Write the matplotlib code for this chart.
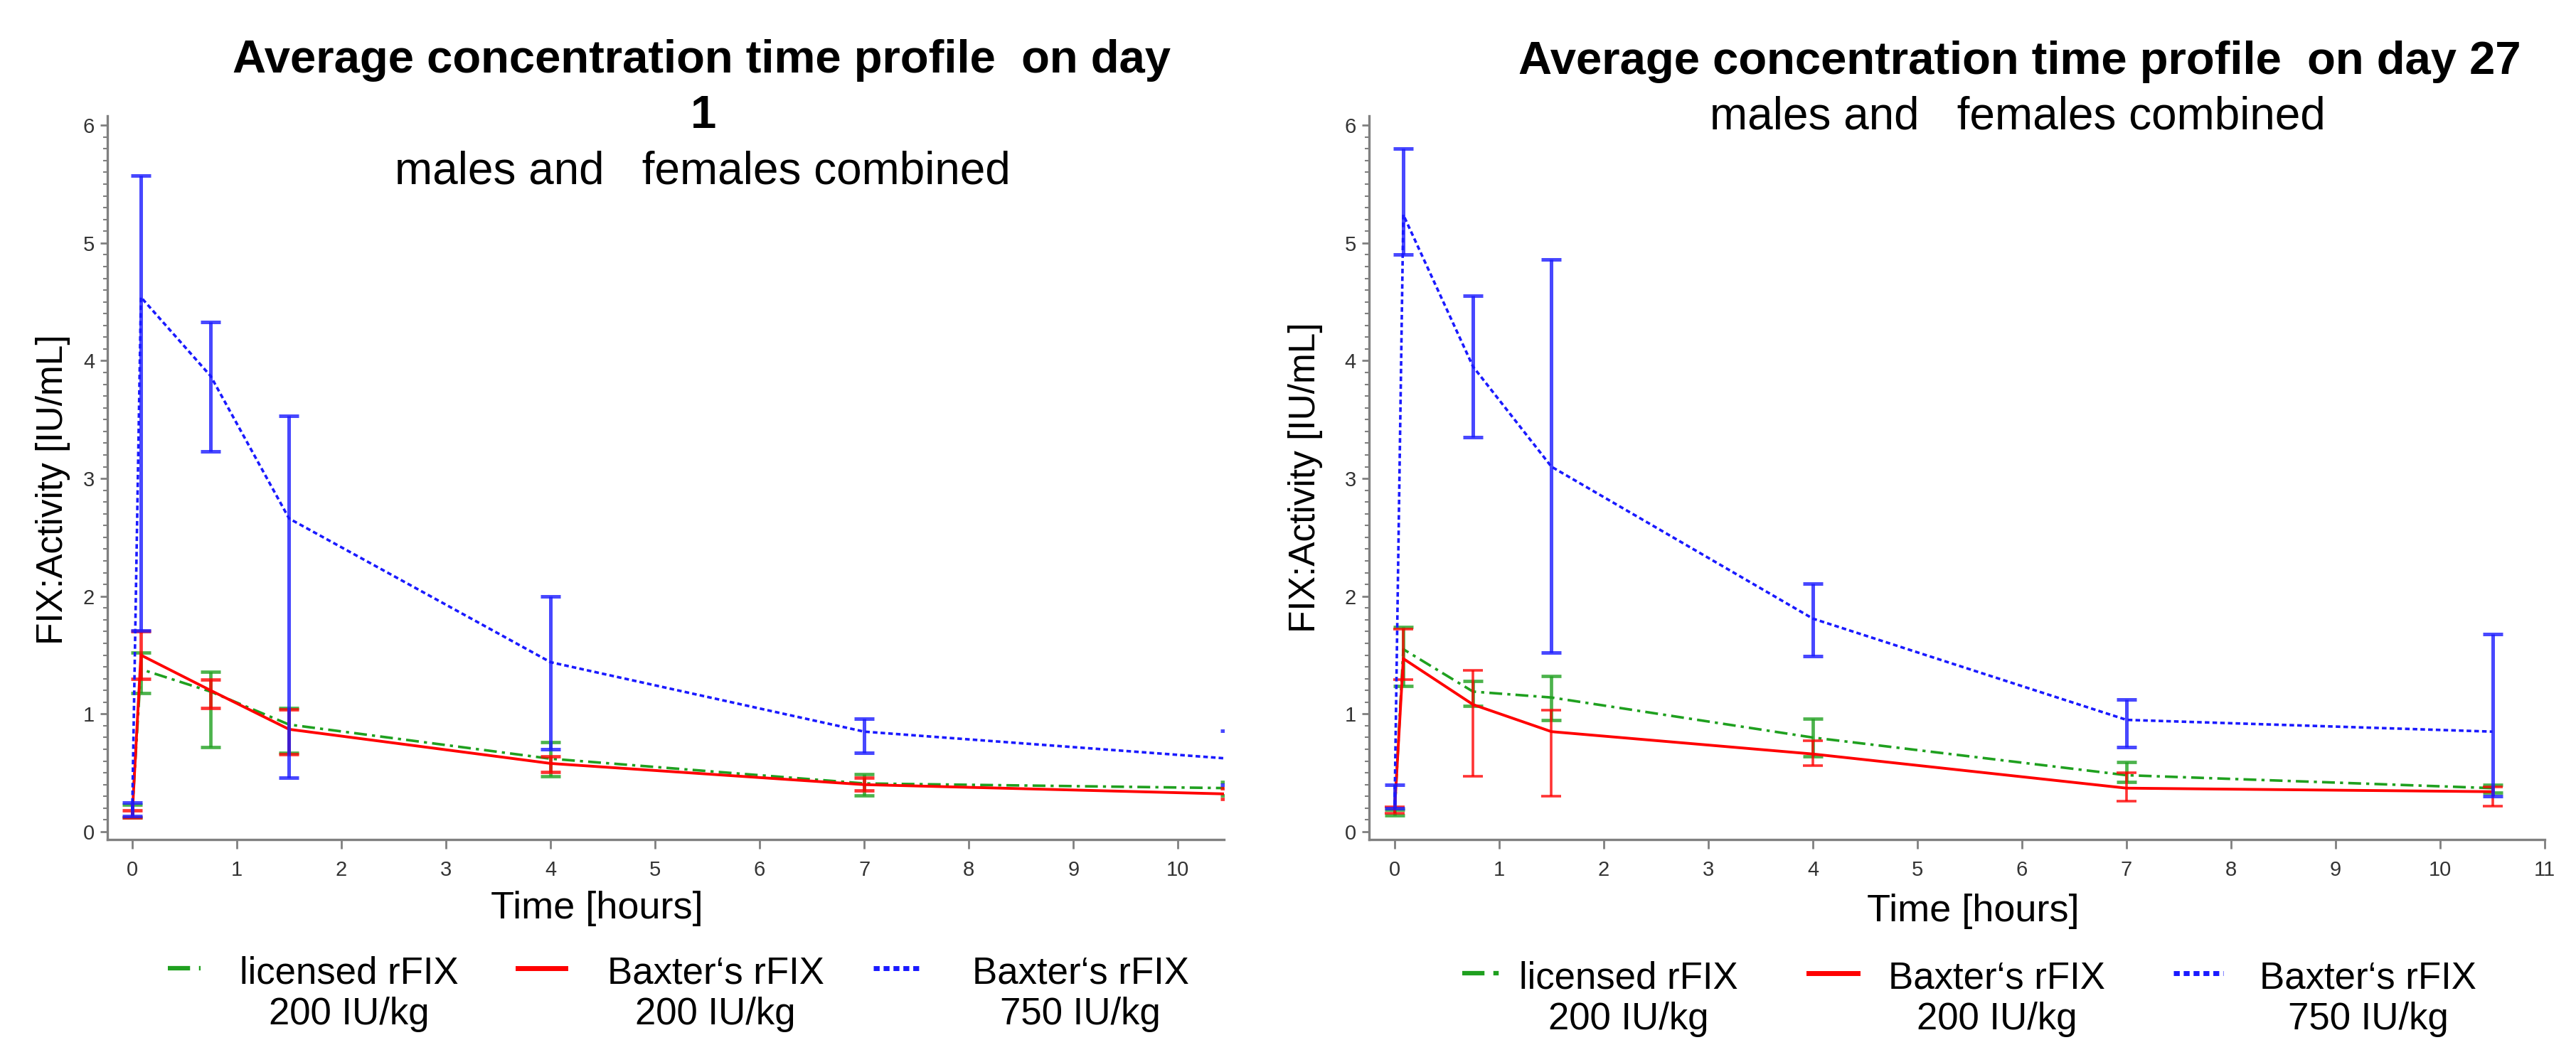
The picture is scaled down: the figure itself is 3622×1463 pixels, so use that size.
"""Average FIX:Activity concentration-time profiles, day 1 and day 27."""

import matplotlib

matplotlib.use("Agg")
import matplotlib.pyplot as plt
import numpy as np
from matplotlib.lines import Line2D
from matplotlib.ticker import MultipleLocator

plt.rcParams["font.family"] = ["Liberation Sans", "DejaVu Sans"]

# sampling times [hours]
TIMES = [0, 0.083, 0.75, 1.5, 4, 7, 10.5]

# day 1 -- licensed rFIX 200 IU/kg
D1_LIC_MEAN = [0.17, 1.38, 1.19, 0.91, 0.62, 0.41, 0.37]
D1_LIC_LOW = [0.12, 1.18, 0.72, 0.67, 0.47, 0.31, 0.31]
D1_LIC_HIGH = [0.23, 1.52, 1.36, 1.05, 0.76, 0.49, 0.42]
# day 1 -- Baxter's rFIX 200 IU/kg
D1_BAX_MEAN = [0.14, 1.50, 1.20, 0.87, 0.58, 0.40, 0.32]
D1_BAX_LOW = [0.12, 1.30, 1.05, 0.66, 0.51, 0.35, 0.28]
D1_BAX_HIGH = [0.18, 1.70, 1.29, 1.04, 0.64, 0.46, 0.37]
# day 1 -- Baxter's rFIX 750 IU/kg
D1_HIGH_MEAN = [0.18, 4.54, 3.87, 2.66, 1.44, 0.85, 0.62]
D1_HIGH_LOW = [0.13, 1.71, 3.23, 0.46, 0.70, 0.67, 0.40]
D1_HIGH_HIGH = [0.25, 5.57, 4.33, 3.53, 2.00, 0.96, 0.86]

# day 27 -- licensed rFIX 200 IU/kg
D27_LIC_MEAN = [0.16, 1.55, 1.19, 1.14, 0.80, 0.48, 0.37]
D27_LIC_LOW = [0.14, 1.24, 1.07, 0.95, 0.64, 0.42, 0.33]
D27_LIC_HIGH = [0.19, 1.74, 1.28, 1.32, 0.96, 0.59, 0.40]
# day 27 -- Baxter's rFIX 200 IU/kg
D27_BAX_MEAN = [0.19, 1.47, 1.08, 0.85, 0.66, 0.37, 0.34]
D27_BAX_LOW = [0.16, 1.29, 0.47, 0.30, 0.56, 0.26, 0.22]
D27_BAX_HIGH = [0.21, 1.72, 1.37, 1.03, 0.77, 0.50, 0.38]
# day 27 -- Baxter's rFIX 750 IU/kg
D27_HIGH_MEAN = [0.23, 5.24, 3.95, 3.10, 1.81, 0.95, 0.85]
D27_HIGH_LOW = [0.20, 4.90, 3.35, 1.52, 1.49, 0.72, 0.30]
D27_HIGH_HIGH = [0.40, 5.80, 4.55, 4.86, 2.11, 1.12, 1.68]

LEGEND_LABELS = [
    "licensed rFIX\n200 IU/kg",
    "Baxter\u2018s rFIX\n200 IU/kg",
    "Baxter\u2018s rFIX\n750 IU/kg",
]

GREEN = "#1fa01f"
RED = "#ff0000"
BLUE = "#1a1aff"
GREEN_LS = (0, (5, 2, 1.2, 2))
BLUE_LS = (0, (1.8, 1.2))
AXIS_GREY = "#808080"


def draw_panel(ax, series, xlim, xmax_tick):
    """Plot mean lines with min/max error bars for the three treatments."""
    t = np.array(TIMES)
    for mean, low, high, color, ls, lw, blw in series:
        mean = np.array(mean)
        yerr = [mean - np.array(low), np.array(high) - mean]
        ax.errorbar(t, mean, yerr=yerr, fmt="none", ecolor=color,
                    elinewidth=blw, capsize=10, capthick=blw, alpha=0.8)
        ax.plot(t, mean, color=color, linestyle=ls, linewidth=lw)

    ax.set_xlim(*xlim)
    ax.set_ylim(-0.066, 6.08)
    ax.set_xticks(range(0, xmax_tick + 1))
    ax.set_yticks(range(0, 7))
    ax.yaxis.set_minor_locator(MultipleLocator(0.1))
    for side in ("top", "right"):
        ax.spines[side].set_visible(False)
    for side in ("left", "bottom"):
        ax.spines[side].set_color(AXIS_GREY)
        ax.spines[side].set_linewidth(2.4)
    ax.tick_params(axis="x", which="major", length=9, width=2,
                   color=AXIS_GREY, labelsize=21, labelcolor="#333333", pad=12)
    ax.tick_params(axis="y", which="major", length=7, width=2,
                   color=AXIS_GREY, labelsize=21, labelcolor="#333333", pad=6)
    ax.tick_params(axis="y", which="minor", length=4, width=1.5,
                   color=AXIS_GREY)


def draw_legend(fig, handle_x, text_x, y_line, y_text):
    """Three legend entries laid out in one row under a panel."""
    styles = [
        (GREEN, GREEN_LS, 4.5),
        (RED, "-", 5),
        (BLUE, (0, (1.2, 0.8)), 5),
    ]
    for (x0, x1), tx, label, (color, ls, lw) in zip(
            handle_x, text_x, LEGEND_LABELS, styles):
        fig.add_artist(Line2D([x0, x1], [y_line, y_line], color=color,
                              linestyle=ls, linewidth=lw,
                              transform=fig.transFigure))
        fig.text(tx, y_text, label, ha="center", va="center",
                 fontsize=38, linespacing=1.2)


def main():
    fig = plt.figure(figsize=(36.23, 14.63), dpi=100)
    ax1 = fig.add_axes([0.0417, 0.1928, 0.4333, 0.6958])
    ax2 = fig.add_axes([0.5313, 0.1928, 0.4563, 0.6958])

    day1 = [
        (D1_LIC_MEAN, D1_LIC_LOW, D1_LIC_HIGH, GREEN, GREEN_LS, 2.6, 3.4),
        (D1_BAX_MEAN, D1_BAX_LOW, D1_BAX_HIGH, RED, "-", 2.8, 3.4),
        (D1_HIGH_MEAN, D1_HIGH_LOW, D1_HIGH_HIGH, BLUE, BLUE_LS, 2.6, 3.6),
    ]
    day27 = [
        (D27_LIC_MEAN, D27_LIC_LOW, D27_LIC_HIGH, GREEN, GREEN_LS, 2.6, 3.4),
        (D27_BAX_MEAN, D27_BAX_LOW, D27_BAX_HIGH, RED, "-", 2.8, 2.6),
        (D27_HIGH_MEAN, D27_HIGH_LOW, D27_HIGH_HIGH, BLUE, BLUE_LS, 2.6, 3.6),
    ]
    draw_panel(ax1, day1, (-0.237, 10.44), 10)
    draw_panel(ax2, day27, (-0.245, 11.0), 11)

    # titles
    fig.text(0.2724, 0.930, "Average concentration time profile  on day",
             ha="center", va="baseline", fontsize=47, fontweight="bold")
    fig.text(0.2730, 0.877, "1", ha="center", va="baseline",
             fontsize=47, fontweight="bold")
    fig.text(0.2727, 0.823, "males and   females combined",
             ha="center", va="baseline", fontsize=46)
    fig.text(0.7837, 0.929, "Average concentration time profile  on day 27",
             ha="center", va="baseline", fontsize=47, fontweight="bold")
    fig.text(0.7830, 0.876, "males and   females combined",
             ha="center", va="baseline", fontsize=46)

    # axis labels
    for x, y in ((0.0207, 0.529), (0.5065, 0.541)):
        fig.text(x, y, "FIX:Activity [IU/mL]", rotation=90, ha="center",
                 va="center", fontsize=37)
    fig.text(0.2316, 0.1265, "Time [hours]", ha="center", va="center",
             fontsize=39)
    fig.text(0.7657, 0.124, "Time [hours]", ha="center", va="center",
             fontsize=39)

    # legends
    draw_legend(fig,
                [(0.0651, 0.0778), (0.2009, 0.2194), (0.3389, 0.3580)],
                [0.1355, 0.2777, 0.4193], 0.069, 0.0443)
    draw_legend(fig,
                [(0.5675, 0.5818), (0.7019, 0.7210), (0.8435, 0.8628)],
                [0.632, 0.775, 0.919], 0.064, 0.0397)

    fig.savefig("out.png", dpi=100)


if __name__ == "__main__":
    main()
